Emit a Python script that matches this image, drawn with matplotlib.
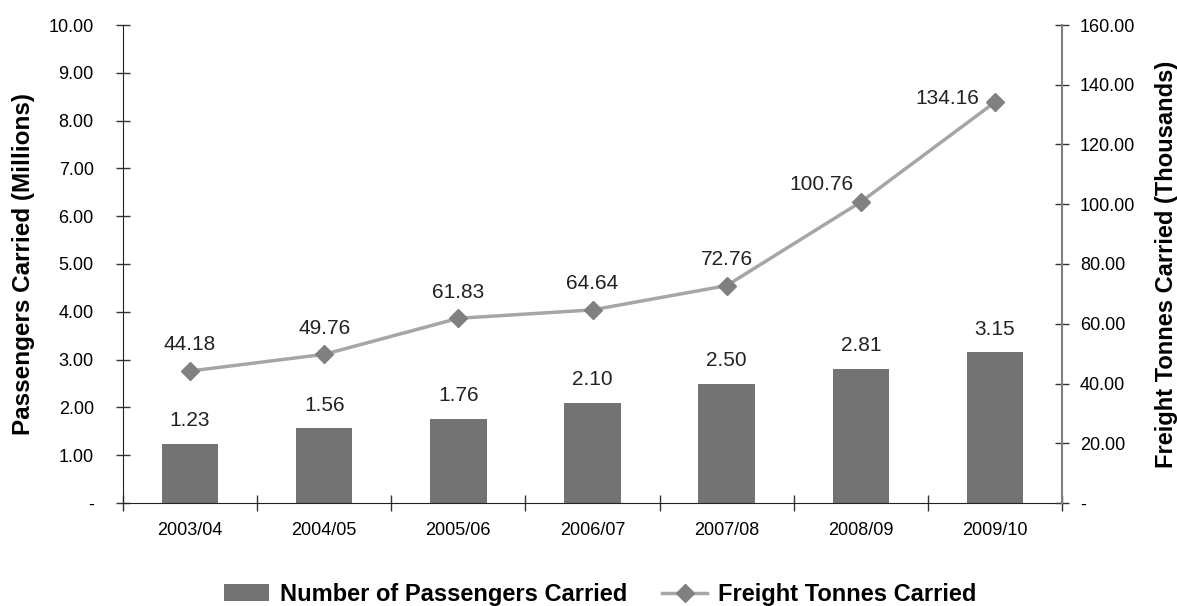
import matplotlib
matplotlib.use("Agg")
import matplotlib.pyplot as plt
import numpy as np
from matplotlib import font_manager

categories = ["2003/04", "2004/05", "2005/06", "2006/07", "2007/08", "2008/09", "2009/10"]
passengers = [1.23, 1.56, 1.76, 2.10, 2.50, 2.81, 3.15]
freight = [44.18, 49.76, 61.83, 64.64, 72.76, 100.76, 134.16]

names = {f.name for f in font_manager.fontManager.ttflist}
narrow = "Liberation Sans Narrow" if "Liberation Sans Narrow" in names else "Liberation Sans"
wide = "Liberation Sans"

fig = plt.figure(figsize=(11.77, 6.06), dpi=100)
ax = fig.add_axes([123/1177, 1-503/606, (1062-123)/1177, (503-25)/606])
ax2 = ax.twinx()

x = np.arange(len(categories))
ax.bar(x, passengers, width=0.42, color="#737373", zorder=2, label="Number of Passengers Carried")
for xi, v in zip(x, passengers):
    ax.annotate(f"{v:.2f}", (xi, v), xytext=(0, 10), textcoords="offset points",
                ha="center", va="bottom", fontsize=15, family=narrow, color="#222222")

ax2.plot(x, freight, color="#a6a6a6", lw=2.5, marker="D", markersize=9.5,
         markerfacecolor="#808080", markeredgecolor="#808080", zorder=3, label="Freight Tonnes Carried")
offsets = [(0, 12)] * 5 + [(-28, 6), (-34, -4)]
for xi, v, off in zip(x, freight, offsets):
    ax2.annotate(f"{v:.2f}", (xi, v), xytext=off, textcoords="offset points",
                 ha="center", va="bottom", fontsize=15, family=narrow, color="#222222")

ax.set_xlim(-0.5, len(categories) - 0.5)
ax.set_ylim(0, 10)
ax2.set_ylim(0, 160)

ax.set_yticks(np.arange(0, 11, 1))
ax.set_yticklabels(["-"] + [f"{v:.2f}" for v in np.arange(1, 11, 1)], family=narrow, fontsize=13)
ax2.set_yticks(np.arange(0, 161, 20))
ax2.set_yticklabels(["-"] + [f"{v:.2f}" for v in np.arange(20, 161, 20)], family=narrow, fontsize=13)

ax.set_xticks(x)
ax.set_xticklabels(categories, family=narrow, fontsize=13)
ax.tick_params(axis="x", length=0, pad=14)
ax.set_xticks(np.arange(-0.5, len(categories), 1), minor=True)
ax.tick_params(axis="x", which="minor", direction="inout", length=12, width=1, color="#333333")

ax.tick_params(axis="y", direction="inout", length=10, width=1, color="#333333", pad=16)
ax2.tick_params(axis="y", direction="inout", length=10, width=1, color="#333333", pad=8)

for a in (ax, ax2):
    a.spines["top"].set_visible(False)
ax.spines["right"].set_visible(False)
ax2.spines["left"].set_visible(False)
ax2.spines["bottom"].set_visible(False)
ax2.spines["right"].set_color("#808080")
ax2.spines["right"].set_linewidth(1.5)
ax.spines["left"].set_color("#222222")
ax.spines["bottom"].set_color("#222222")

ax.set_ylabel("Passengers Carried (Millions)", fontsize=17.5, fontweight="bold", family=wide, labelpad=10)
ax2.set_ylabel("Freight Tonnes Carried (Thousands)", fontsize=17, fontweight="bold", family=wide, labelpad=14)

h1, l1 = ax.get_legend_handles_labels()
h2, l2 = ax2.get_legend_handles_labels()
fig.legend(h1 + h2, l1 + l2, loc="lower center", bbox_to_anchor=(0.51, -0.035), ncol=2, frameon=False,
           prop={"family": narrow, "weight": "bold", "size": 17}, handlelength=1.9, columnspacing=1.5,
           handletextpad=0.45)

fig.savefig("out.png", dpi=100)
